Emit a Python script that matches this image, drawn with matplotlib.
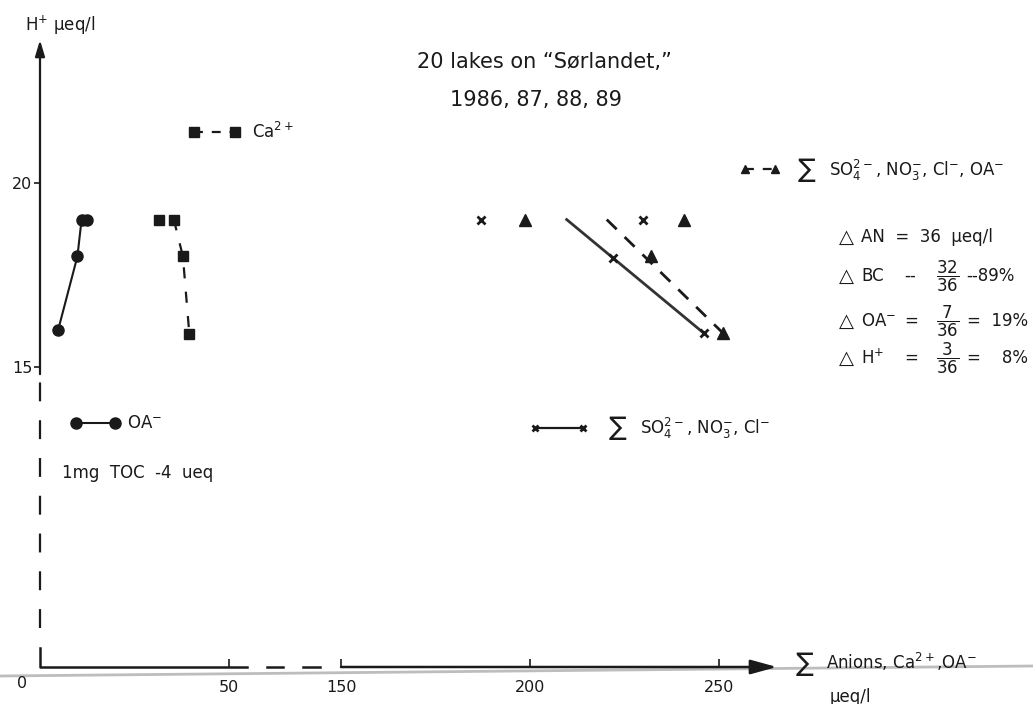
import numpy as np
import matplotlib
matplotlib.use("Agg")
import matplotlib.pyplot as plt
from matplotlib.lines import Line2D

plt.rcParams['font.family'] = ['DejaVu Sans']
plt.rcParams['mathtext.fontset'] = 'dejavusans'
plt.rcParams['mathtext.default'] = 'regular'

# ---------------- data (x: sum anions / Ca2+ / OA-, µeq/l ; y: H+ µeq/l) -------------
oa_x = [12.5, 11.0, 9.9, 4.8]
oa_y = [19.0, 19.0, 18.0, 16.0]

ca_x = [31.6, 35.4, 37.8, 39.5]
ca_y = [19.0, 19.0, 18.0, 15.9]

an_x = [187.0, 230.0, 222.0, 245.9]          # sum SO4, NO3, Cl  (crosses)
an_y = [19.0, 19.0, 17.95, 15.92]
an_trend_x = [209.7, 245.9]
an_trend_y = [19.0, 15.92]

anoa_x = [198.7, 240.8, 231.9, 251.0]        # sum SO4, NO3, Cl, OA (triangles)
anoa_y = [19.0, 19.0, 18.0, 15.92]
anoa_trend_x = [220.3, 251.0]
anoa_trend_y = [19.0, 15.92]

# legend sample positions
leg_oa_x, leg_oa_y = [9.5, 19.8], [13.47, 13.47]
leg_ca_x, leg_ca_y = [40.8, 51.7], [21.37, 21.37]
leg_an_x, leg_an_y = [201.3, 214.0], [13.33, 13.33]
leg_anoa_x, leg_anoa_y = [256.9, 264.8], [20.37, 20.37]

xticks = [50, 150, 200, 250]
yticks = [15, 20]

# ---------------- broken x scale ----------------
BRK_LO, BRK_HI, GAP = 60.0, 150.0, 19.63
SHIFT = BRK_HI - BRK_LO - GAP


def fwd(x):
    x = np.asarray(x, float)
    return np.where(x <= BRK_LO, x,
                    np.where(x >= BRK_HI, x - SHIFT,
                             BRK_LO + (x - BRK_LO) * GAP / (BRK_HI - BRK_LO)))


def inv(f):
    f = np.asarray(f, float)
    return np.where(f <= BRK_LO, f,
                    np.where(f >= BRK_LO + GAP, f + SHIFT,
                             BRK_LO + (f - BRK_LO) * (BRK_HI - BRK_LO) / GAP))


W, H = 1033, 704
X0, XR, Y0, YT = 40, 1020, 667, 40
fig = plt.figure(figsize=(W / 100, H / 100), dpi=100)
ax = fig.add_axes([X0 / W, (H - Y0) / H, (XR - X0) / W, (Y0 - YT) / H])
ax.set_xscale('function', functions=(fwd, inv))
YMIN, YMAX = 6.84, 23.88
ax.set_xlim(0, (XR - X0) / 3.78 + SHIFT)
ax.set_ylim(YMIN, YMAX)
for s in ax.spines.values():
    s.set_visible(False)
ax.patch.set_alpha(0)

# scanner streak
fig.add_artist(Line2D([0, 1], [1 - 676 / H, 1 - 666 / H], transform=fig.transFigure,
                      color='#bdbdbd', lw=2, zorder=0))

K = '#1a1a1a'
# ----- axes lines -----
ax.annotate('', xy=(0, YMAX), xytext=(0, 14.8),
            arrowprops=dict(arrowstyle='-|>,head_length=0.6,head_width=0.18', lw=1.6,
                            color=K, mutation_scale=16, shrinkA=0, shrinkB=0),
            annotation_clip=False)
ax.plot([0, 0], [7.90, 14.6], color=K, lw=1.6, ls=(0, (8.5, 8.5)), clip_on=False)
ax.plot([0, 0, 54.8], [7.35, YMIN, YMIN], color=K, lw=1.8, clip_on=False)
ax.plot([60.2, 79.7], [YMIN, YMIN], color=K, lw=1.8, clip_on=False)
ax.plot([103.9, 124.5], [YMIN, YMIN], color=K, lw=1.8, clip_on=False)
ax.annotate('', xy=(265.3, YMIN), xytext=(150, YMIN),
            arrowprops=dict(arrowstyle='-|>,head_length=0.8,head_width=0.22', lw=1.8,
                            color=K, mutation_scale=20, shrinkA=0, shrinkB=0),
            annotation_clip=False)

ax.set_xticks(xticks)
ax.set_xticklabels([str(v) for v in xticks])
ax.set_yticks(yticks)
ax.set_yticklabels([str(v) for v in yticks])
ax.tick_params(axis='x', direction='in', length=6, width=1.2, pad=9, labelsize=11.5,
               colors=K)
ax.tick_params(axis='y', direction='out', length=4, width=1.2, pad=1.5, labelsize=11.5,
               colors=K)

# ----- data series -----
ax.plot(oa_x, oa_y, '-', color=K, lw=1.5, marker='o', ms=8, clip_on=False)
ax.plot(ca_x[1:], ca_y[1:], color=K, lw=1.6, ls=(0, (5, 6)), clip_on=False)
ax.plot(ca_x, ca_y, 's', color=K, ms=7, clip_on=False)
ax.plot(an_trend_x, an_trend_y, '-', color='#333333', lw=2, clip_on=False)
ax.plot(an_x, an_y, 'x', color=K, ms=6, mew=2, clip_on=False)
ax.plot(anoa_trend_x, anoa_trend_y, color=K, lw=2, ls=(0, (5, 4)), clip_on=False)
ax.plot(anoa_x, anoa_y, '^', color=K, ms=8, clip_on=False)

# ----- legend samples -----
ax.plot(leg_oa_x, leg_oa_y, '-', color=K, lw=1.5, marker='o', ms=8, clip_on=False)
ax.plot(leg_ca_x, leg_ca_y, color=K, lw=1.6, ls=(0, (4, 4)), clip_on=False)
ax.plot(leg_ca_x, leg_ca_y, 's', color=K, ms=7, clip_on=False)
ax.plot(leg_an_x, leg_an_y, '-', color=K, lw=1.6, marker='x', ms=5, mew=2, clip_on=False)
ax.plot(leg_anoa_x, leg_anoa_y, color=K, lw=1.6, ls=(0, (4, 4)), clip_on=False)
ax.plot(leg_anoa_x, leg_anoa_y, '^', color=K, ms=6, clip_on=False)


def ftxt(px, py, s, **kw):
    kw.setdefault('va', 'center')
    kw.setdefault('ha', 'left')
    kw.setdefault('color', K)
    fig.text(px / W, 1 - py / H, s, **kw)


FS = 12
SIG = 19
ftxt(25, 25, 'H$^{+}$ µeq/l', size=FS)
ftxt(544, 62, '20 lakes on \u201cSørlandet,\u201d', size=15, ha='center')
ftxt(536, 100, '1986, 87, 88, 89', size=15, ha='center')
ftxt(252, 132, 'Ca$^{2+}$', size=FS)
ftxt(127, 423, 'OA$^{-}$', size=FS)
ftxt(62, 473, '1mg  TOC  -4  ueq', size=FS)

ftxt(609, 428, '\u2211', size=SIG)
ftxt(640, 428, 'SO$_4^{2-}$, NO$_3^{-}$, Cl$^{-}$', size=FS)
ftxt(798, 170, '\u2211', size=SIG)
ftxt(829, 170, 'SO$_4^{2-}$, NO$_3^{-}$, Cl$^{-}$, OA$^{-}$', size=FS)

# delta block
ROWS = (237, 276, 321, 358)
for yy in ROWS:
    ftxt(839, yy, '\u25b3', size=14)
ftxt(861, ROWS[0], 'AN  =  36  µeq/l', size=FS)

ftxt(861, ROWS[1], 'BC', size=FS)
ftxt(904, ROWS[1], '--', size=FS)
ftxt(948, ROWS[1], r'$\dfrac{32}{36}$', size=FS, ha='center')
ftxt(966, ROWS[1], '--89%', size=FS)

ftxt(861, ROWS[2], 'OA$^{-}$', size=FS)
ftxt(904, ROWS[2], '=', size=FS)
ftxt(948, ROWS[2], r'$\dfrac{7}{36}$', size=FS, ha='center')
ftxt(967, ROWS[2], '=  19%', size=FS)

ftxt(861, ROWS[3], 'H$^{+}$', size=FS)
ftxt(904, ROWS[3], '=', size=FS)
ftxt(948, ROWS[3], r'$\dfrac{3}{36}$', size=FS, ha='center')
ftxt(967, ROWS[3], '=    8%', size=FS)

ftxt(796, 664, '\u2211', size=SIG)
ftxt(826, 662, 'Anions, Ca$^{2+}$,OA$^{-}$', size=FS)
ftxt(830, 697, 'µeq/l', size=FS)
ftxt(22, 683, '0', size=11.5, ha='center')

fig.savefig('out.png', dpi=100)
